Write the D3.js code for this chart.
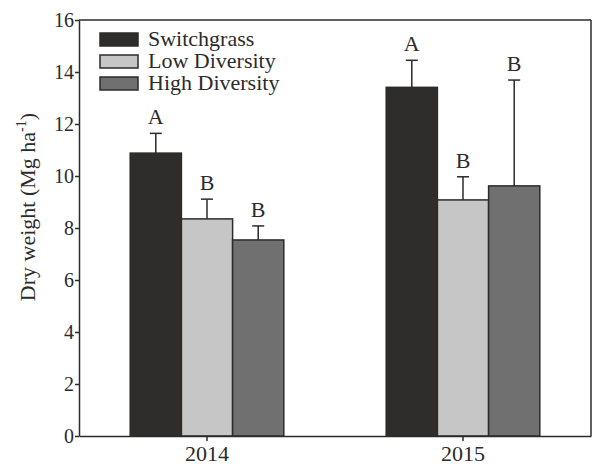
<!DOCTYPE html>
<html>
<head>
<meta charset="utf-8">
<script src="https://cdn.jsdelivr.net/npm/d3@7"></script>
<style>
  html, body { margin: 0; padding: 0; background: #fff; }
  svg { display: block; font-family: "Liberation Serif", "Times New Roman", serif; }
</style>
</head>
<body>
<svg id="chart" width="592" height="466"></svg>
<script>
// Dry weight by year and planting treatment
const years = ["2014", "2015"];
const treatments = ["Switchgrass", "Low Diversity", "High Diversity"];
const colors = ["#2e2d2b", "#c6c6c6", "#707070"];
const means = {
  "Switchgrass":    [10.88, 13.41],
  "Low Diversity":  [8.35, 9.08],
  "High Diversity": [7.54, 9.62]
};
const errors = {
  "Switchgrass":    [0.76, 1.04],
  "Low Diversity":  [0.76, 0.89],
  "High Diversity": [0.54, 4.07]
};
const letters = {
  "Switchgrass":    ["A", "A"],
  "Low Diversity":  ["B", "B"],
  "High Diversity": ["B", "B"]
};
const yTicks = [0, 2, 4, 6, 8, 10, 12, 14, 16];

const svg = d3.select("#chart");
const margin = { left: 79, right: 1, top: 20, bottom: 30 };
const W = 592, H = 466;
const ink = "#2b2b2b";
const serif = "Liberation Serif, Times New Roman, serif";

const x0 = d3.scaleBand().domain(years).range([margin.left, W - margin.right]).paddingInner(0).paddingOuter(0);
const groupW = x0.bandwidth() * 0.6;
const x1 = d3.scaleBand().domain(treatments).range([0, groupW]).padding(0);
const y = d3.scaleLinear().domain([0, 16]).range([H - margin.bottom, margin.top]);

// frame top and right
svg.append("line")
  .attr("x1", margin.left).attr("x2", W - margin.right)
  .attr("y1", y(16)).attr("y2", y(16))
  .attr("stroke", ink).attr("stroke-width", 1.5);
svg.append("line")
  .attr("x1", W - margin.right).attr("x2", W - margin.right)
  .attr("y1", y(16)).attr("y2", y(0))
  .attr("stroke", ink).attr("stroke-width", 1.5);

// bars
const rows = [];
years.forEach((yr, i) => treatments.forEach((t, j) => rows.push({
  year: yr, t, color: colors[j], v: means[t][i], e: errors[t][i], letter: letters[t][i]
})));

const bx = d => x0(d.year) + (x0.bandwidth() - groupW) / 2 + x1(d.t);

// error bars (drawn first so the bar covers the lower half)
const eb = svg.append("g").attr("stroke", ink).attr("stroke-width", 1.5);
rows.forEach(d => {
  const cx = bx(d) + x1.bandwidth() / 2;
  eb.append("line").attr("x1", cx).attr("x2", cx).attr("y1", y(d.v)).attr("y2", y(d.v + d.e));
  eb.append("line").attr("x1", cx - 6).attr("x2", cx + 6).attr("y1", y(d.v + d.e)).attr("y2", y(d.v + d.e));
});

svg.append("g").selectAll("rect").data(rows).join("rect")
  .attr("x", d => bx(d))
  .attr("y", d => y(d.v))
  .attr("width", x1.bandwidth())
  .attr("height", d => y(0) - y(d.v))
  .attr("fill", d => d.color)
  .attr("stroke", ink)
  .attr("stroke-width", 1.5);

// significance letters
svg.append("g").selectAll("text").data(rows).join("text")
  .attr("x", d => bx(d) + x1.bandwidth() / 2)
  .attr("y", d => y(d.v + d.e) - 9)
  .attr("text-anchor", "middle")
  .attr("font-size", 22)
  .attr("fill", ink)
  .text(d => d.letter);

// y axis
const yAxis = svg.append("g")
  .attr("transform", `translate(${margin.left},0)`)
  .call(d3.axisLeft(y).tickValues(yTicks).tickSize(4).tickSizeOuter(0).tickPadding(1));
yAxis.select(".domain").attr("stroke", ink).attr("stroke-width", 1.5);
yAxis.selectAll(".tick line").attr("stroke", ink).attr("stroke-width", 1.5);
yAxis.selectAll(".tick text").attr("font-size", 20).attr("fill", ink)
  .attr("font-family", serif);

// x axis
const xAxis = svg.append("g")
  .attr("transform", `translate(0,${y(0)})`)
  .call(d3.axisBottom(x0).tickSize(5).tickSizeOuter(0));
xAxis.select(".domain").attr("stroke", ink).attr("stroke-width", 1.5);
xAxis.selectAll(".tick line").attr("stroke", ink).attr("stroke-width", 1.5);
xAxis.selectAll(".tick text").attr("font-size", 22).attr("fill", ink)
  .attr("font-family", serif).attr("y", 25).attr("dy", null);

// y axis title
const yt = svg.append("text")
  .attr("transform", `translate(35,${(y(0) + y(16)) / 2 - 21}) rotate(-90)`)
  .attr("text-anchor", "middle")
  .attr("font-size", 22)
  .attr("fill", ink);
yt.append("tspan").text("Dry weight (Mg ha");
yt.append("tspan").attr("font-size", 14).attr("dy", -9).text("-1");
yt.append("tspan").attr("dy", 9).text(")");

// legend
const lg = svg.append("g").attr("transform", "translate(100,33)");
treatments.forEach((t, i) => {
  const g = lg.append("g").attr("transform", `translate(0,${i * 22})`);
  g.append("rect").attr("width", 38).attr("height", 13)
    .attr("fill", colors[i]).attr("stroke", ink).attr("stroke-width", 1.5);
  g.append("text").attr("x", 48).attr("y", 12.5)
    .attr("font-size", 22).attr("fill", ink).text(t);
});
</script>
</body>
</html>
